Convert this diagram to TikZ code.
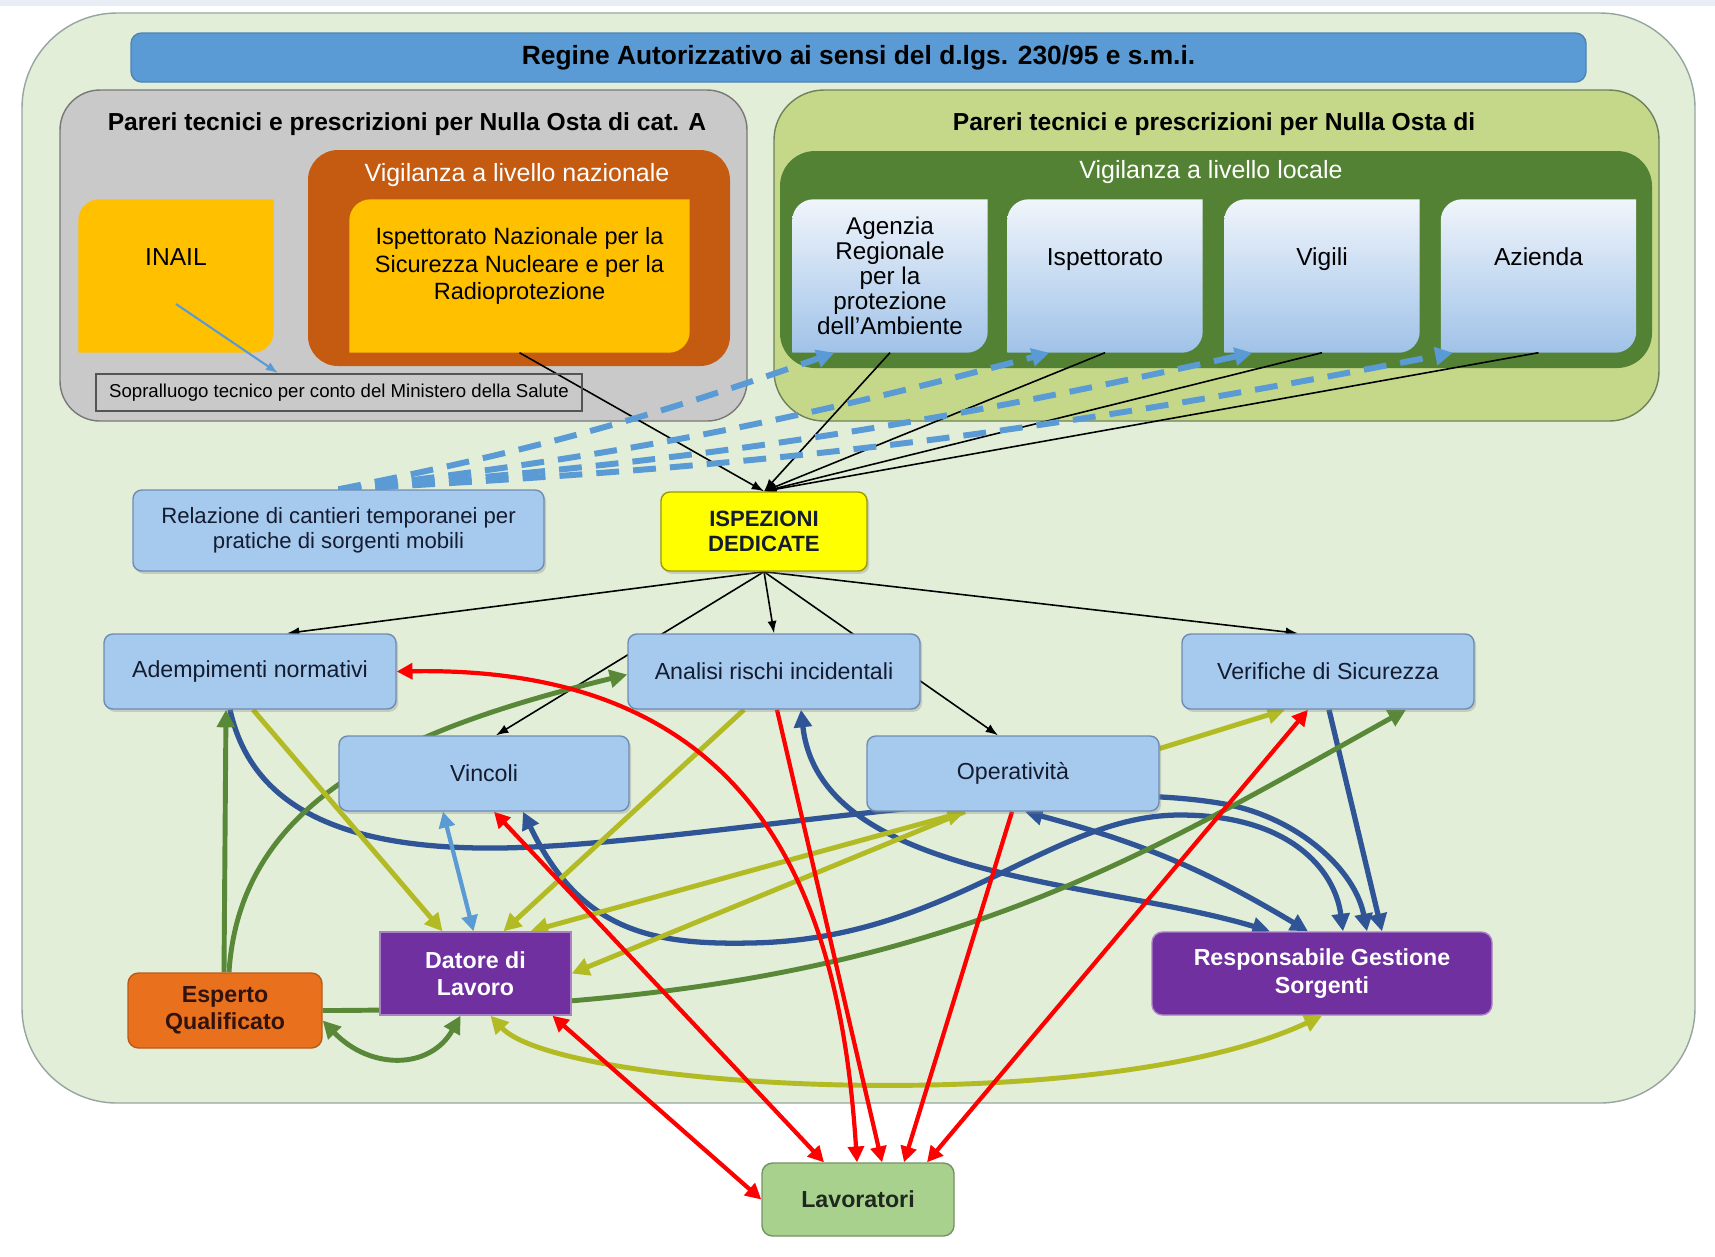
\documentclass[tikz,border=0pt]{standalone}
\usepackage{fontspec}
\setmainfont{Liberation Sans}
\usetikzlibrary{arrows.meta,shadows}

\definecolor{bandcol}{RGB}{232,237,246}
\definecolor{framefill}{RGB}{226,238,216}
\definecolor{frameline}{RGB}{150,165,160}
\definecolor{titleblue}{RGB}{91,155,213}
\definecolor{grayfill}{RGB}{201,201,201}
\definecolor{grayline}{RGB}{120,120,120}
\definecolor{rustbox}{RGB}{197,90,17}
\definecolor{goldbox}{RGB}{255,192,0}
\definecolor{limefill}{RGB}{197,216,138}
\definecolor{limeline}{RGB}{110,130,90}
\definecolor{forest}{RGB}{84,130,53}
\definecolor{localtop}{RGB}{240,245,251}
\definecolor{localbot}{RGB}{160,194,232}
\definecolor{paleblue}{RGB}{166,201,238}
\definecolor{paleline}{RGB}{110,140,178}
\definecolor{boxtext}{RGB}{20,28,48}
\definecolor{lemon}{RGB}{255,255,0}
\definecolor{violetbox}{RGB}{112,48,160}
\definecolor{pumpkin}{RGB}{233,113,30}
\definecolor{sage}{RGB}{169,209,142}
\definecolor{arrred}{RGB}{255,0,0}
\definecolor{arrblue}{RGB}{47,85,151}
\definecolor{arrolive}{RGB}{178,186,36}
\definecolor{arrgreen}{RGB}{88,136,56}
\definecolor{arrsky}{RGB}{91,155,213}

\pgfdeclarelayer{frame}
\pgfdeclarelayer{links}
\pgfsetlayers{frame,links,main}

\newcommand{\leafshape}[2]{%
  \path[#2] ([yshift=-6pt]#1.north west) arc[start angle=180,end angle=90,radius=6pt]
    -- (#1.north east) -- ([yshift=6pt]#1.south east) arc[start angle=0,end angle=-90,radius=6pt]
    -- (#1.south west) -- cycle;}

\begin{document}
\begin{tikzpicture}[x=0.1mm,y=-0.1mm]
	\tikzstyle{every node}=[inner sep=0pt, align=center]
	\tikzstyle{titlebar}=[fill=titleblue, draw=titleblue!85!black, rounded corners=3pt, minimum width=145.5mm, minimum height=4.9mm, font=\bfseries\fontsize{7.5}{9}\selectfont]
	\tikzstyle{grouptitle}=[font=\bfseries\fontsize{7}{8.4}\selectfont]
	\tikzstyle{vigtitle}=[text=white, font=\fontsize{7.1}{8.4}\selectfont]
	\tikzstyle{leaf}=[minimum width=19.4mm, minimum height=15.2mm, font=\fontsize{7}{7.8}\selectfont]
	\tikzstyle{box}=[draw=paleline, fill=paleblue, rounded corners=2.5pt, text=boxtext, minimum width=29.2mm, minimum height=7.5mm, font=\fontsize{6.6}{7.8}\selectfont, drop shadow={shadow xshift=0.6pt, shadow yshift=-0.8pt, opacity=0.3}]
	\tikzstyle{person}=[fill=violetbox, draw=violetbox!60!white, text=white, minimum height=8.3mm, font=\bfseries\fontsize{6.6}{7.8}\selectfont]
	\tikzstyle{blackarrow}=[-{Latex[length=3.5pt,width=2.6pt]}, line width=0.45pt, black]
	\tikzstyle{dashlink}=[draw=arrsky, line width=1.7pt, dash pattern=on 6.5pt off 4pt, >={Triangle[length=5pt,width=5pt]}]
	\tikzstyle{redlink}=[draw=arrred, line width=1.2pt, >={Triangle[length=4.5pt,width=4.5pt]}]
	\tikzstyle{bluelink}=[draw=arrblue, line width=1.5pt, >={Triangle[length=5pt,width=5pt]}]
	\tikzstyle{olivelink}=[draw=arrolive, line width=1.4pt, >={Triangle[length=5pt,width=5pt]}]
	\tikzstyle{greenlink}=[draw=arrgreen, line width=1.4pt, >={Triangle[length=5pt,width=5pt]}]
	\tikzstyle{skylink}=[draw=arrsky, line width=1.2pt, >={Triangle[length=4.5pt,width=4.5pt]}]

	\useasboundingbox (0,0) rectangle (1715,1256);

	\begin{pgfonlayer}{frame}
	\fill[white] (0,0) rectangle (1715,1256);
	\fill[bandcol] (0,0) rectangle (1715,6);
	\draw[frameline, fill=framefill, rounded corners=9.5mm] (22,13) rectangle (1695,1103);
	\draw[grayline, fill=grayfill, rounded corners=4mm] (60,90) rectangle (747,421);
	\fill[rustbox, rounded corners=3mm] (308,150) rectangle (730,366);
	\draw[limeline, fill=limefill, rounded corners=5mm] (774,90) rectangle (1659,421);
	\fill[forest, rounded corners=3.5mm] (780,151) rectangle (1652,368);
	\end{pgfonlayer}

	\node[titlebar] (regime) at (858.5,57.5) {Regine Autorizzativo ai sensi del d.lgs. 230/95 e s.m.i.};

	\node[grouptitle] (catA) at (407,124) {Pareri tecnici e prescrizioni per Nulla Osta di cat. A};
	\node[vigtitle] (vignaz) at (517,175) {Vigilanza a livello nazionale};
	\node[leaf, text depth=11pt] (inail) at (176,276) {INAIL};
	\node[leaf, minimum width=33.9mm, text depth=7pt, font=\fontsize{6.7}{7.8}\selectfont] (isin) at (519.5,276) {Ispettorato Nazionale per la\\Sicurezza Nucleare e per la\\Radioprotezione};
	\node[draw=grayline!70!black, line width=0.5pt, minimum width=48.6mm, minimum height=3.7mm, font=\fontsize{5.3}{6}\selectfont] (sopr) at (339,392.5) {Sopralluogo tecnico per conto del Ministero della Salute};

	\node[grouptitle] (nodi) at (1214,124) {Pareri tecnici e prescrizioni per Nulla Osta di};
	\node[vigtitle] (vigloc) at (1211,172) {Vigilanza a livello locale};
	\node[leaf, font=\fontsize{6.9}{7.1}\selectfont] (arpa) at (890,276) {Agenzia\\Regionale\\per la\\protezione\\dell'Ambiente};
	\node[leaf, text depth=11pt] (ispett) at (1105,276) {Ispettorato};
	\node[leaf, text depth=11pt] (vigili) at (1322,276) {Vigili};
	\node[leaf, text depth=11pt] (azienda) at (1538.5,276) {Azienda};

	\node[box, minimum width=41.1mm, minimum height=8.1mm, font=\fontsize{6.3}{7.2}\selectfont] (relaz) at (338.5,530.5) {Relazione di cantieri temporanei per\\pratiche di sorgenti mobili};
	\node[box, fill=lemon, draw=lemon!60!black, minimum width=20.6mm, minimum height=7.9mm, font=\bfseries\fontsize{6.3}{7.2}\selectfont] (ispez) at (764,531.5) {ISPEZIONI\\DEDICATE};

	\node[box] (adem) at (250,671.5) {Adempimenti normativi};
	\node[box] (analisi) at (774,671.5) {Analisi rischi incidentali};
	\node[box] (verif) at (1328,671.5) {Verifiche di Sicurezza};
	\node[box, minimum width=29mm] (vincoli) at (484,773.5) {Vincoli};
	\node[box] (operat) at (1013,773.5) {Operatività};

	\node[person, minimum width=19.1mm] (datore) at (475.5,973.5) {Datore di\\Lavoro};
	\node[person, rounded corners=3pt, minimum width=34mm] (respons) at (1322,973.5) {Responsabile Gestione\\Sorgenti};
	\node[fill=pumpkin, draw=pumpkin!80!black, rounded corners=3pt, text={rgb,255:red,50;green,18;blue,12}, minimum width=19.4mm, minimum height=7.5mm, font=\bfseries\fontsize{6.6}{7.8}\selectfont] (esperto) at (225,1010.5) {Esperto\\Qualificato};
	\node[fill=sage, draw=sage!70!black, rounded corners=3pt, text={rgb,255:red,30;green,40;blue,30}, minimum width=19.2mm, minimum height=7.3mm, font=\bfseries\fontsize{6.6}{7.8}\selectfont] (lavor) at (858,1199.5) {Lavoratori};

	\begin{pgfonlayer}{links}
	\leafshape{inail}{fill=goldbox}
	\leafshape{isin}{fill=goldbox}
	\foreach \n in {arpa,ispett,vigili,azienda}
		\leafshape{\n}{top color=localtop, bottom color=localbot};

	\draw[arrsky, line width=0.6pt, -{Latex[length=3.5pt,width=2.6pt]}] ([yshift=-2.8mm]inail.center) -- ([xshift=18.3mm]sopr.north west);

	\draw[blackarrow] (isin.south) -- (ispez.north);
	\foreach \n in {arpa,ispett,vigili,azienda}
		\draw[blackarrow] (\n.south) -- (ispez.north);
	\draw[blackarrow] (ispez.south) -- ([xshift=3.7mm]adem.north);
	\draw[blackarrow] (ispez.south) -- (analisi.north);
	\draw[blackarrow] (ispez.south) -- ([xshift=-3mm]verif.north);
	\draw[blackarrow] (ispez.south) -- ([xshift=1.2mm]vincoli.north);
	\draw[blackarrow] (ispez.south) -- ([xshift=-1.5mm]operat.north);

	\draw[dashlink, ->] (relaz.north) to[bend right=4] ([xshift=4.2mm]arpa.south west);
	\draw[dashlink, ->] (relaz.north) to[bend right=4] ([xshift=4.2mm]ispett.south west);
	\draw[dashlink, ->] (relaz.north) to[bend right=4] ([xshift=2.8mm]vigili.south west);
	\draw[dashlink, ->] (relaz.north) to[bend right=4] ([xshift=1.2mm]azienda.south west);

	\draw[bluelink, ->] ([xshift=-2mm]adem.south) .. controls (250,800) and (330,850) .. (500,848) .. controls (700,845) and (1050,770) .. (1230,805) .. controls (1300,820) and (1355,870) .. ([xshift=4.5mm]respons.north);
	\draw[bluelink, <->] ([xshift=3.9mm]vincoli.south) .. controls (580,930) and (650,945) .. (750,943) .. controls (950,940) and (1050,815) .. (1180,815) .. controls (1290,815) and (1335,870) .. ([xshift=2.1mm]respons.north);
	\draw[bluelink, <->] ([xshift=2.7mm]analisi.south) .. controls (820,880) and (1100,880) .. ([xshift=-5.2mm]respons.north);
	\draw[bluelink, <->] ([xshift=1.2mm]operat.south) to[bend left=8] ([xshift=-1.4mm]respons.north);
	\draw[bluelink, ->] ([xshift=0.1mm]verif.south) -- ([xshift=6mm]respons.north);

	\draw[greenlink, ->] ([xshift=-0.1mm]esperto.north) -- ([xshift=-2.4mm]adem.south);
	\draw[greenlink, ->] ([xshift=0.4mm]esperto.north) .. controls (240,800) and (400,730) .. ([yshift=-0.3mm]analisi.west);
	\draw[greenlink, ->] (esperto.east) .. controls (900,1010) and (1100,880) .. ([xshift=7.8mm]verif.south);
	\draw[greenlink, <->] ([yshift=-1mm]esperto.east) .. controls (370,1070) and (430,1070) .. ([xshift=-1.5mm]datore.south);

	\draw[olivelink, ->] ([xshift=0.3mm]adem.south) -- ([xshift=-3.3mm]datore.north);
	\draw[olivelink, ->] ([xshift=-3mm]analisi.south) -- ([xshift=2.8mm]datore.north);
	\draw[olivelink, <->] ([xshift=-4.8mm]operat.south) -- ([xshift=5.5mm]datore.north);
	\draw[olivelink, ->] ([xshift=-4.8mm]operat.south) -- (datore.east);
	\draw[olivelink, ->] ([yshift=2.5mm]operat.east) -- ([xshift=-4.3mm]verif.south);
	\draw[olivelink, <->] ([xshift=1.5mm]datore.south) .. controls (560,1090) and (1100,1120) .. (respons.south);

	\draw[skylink, <->] ([xshift=-4.1mm]vincoli.south) -- ([xshift=-0.2mm]datore.north);

	\draw[redlink, <->] (adem.east) .. controls (760,665) and (840,900) .. ([xshift=-0.1mm]lavor.north);
	\draw[redlink, <->] ([xshift=1mm]vincoli.south) -- ([xshift=-3.4mm]lavor.north);
	\draw[redlink, ->] ([xshift=0.3mm]analisi.south) -- ([xshift=2.4mm]lavor.north);
	\draw[redlink, ->] ([xshift=-0.1mm]operat.south) -- ([xshift=4.6mm]lavor.north);
	\draw[redlink, <->] ([xshift=-2mm]verif.south) -- ([xshift=6.9mm]lavor.north);
	\draw[redlink, <->] ([xshift=7.7mm]datore.south) -- (lavor.west);
	\end{pgfonlayer}

\end{tikzpicture}
\end{document}
